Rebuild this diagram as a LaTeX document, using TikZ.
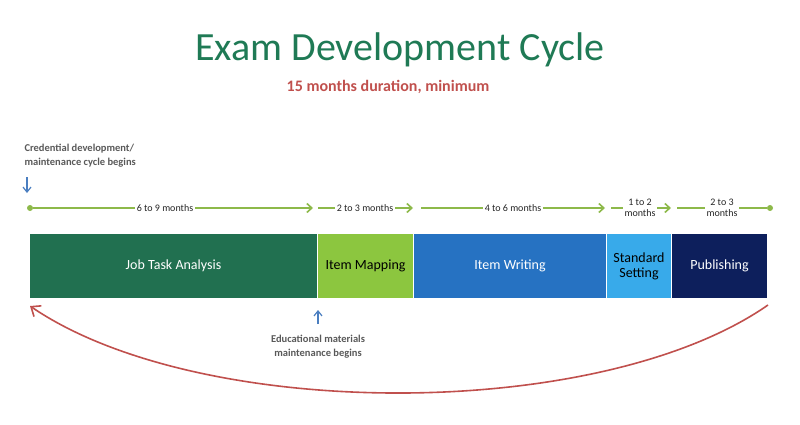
\documentclass[tikz,border=0pt]{standalone}
\usepackage{fontspec}
\setmainfont{Carlito}
\usetikzlibrary{arrows.meta}
\definecolor{jta}{HTML}{217050}
\definecolor{imap}{HTML}{8CC63F}
\definecolor{iwr}{HTML}{2672C2}
\definecolor{sset}{HTML}{38AAEA}
\definecolor{pub}{HTML}{0D1F5C}
\definecolor{ttl}{HTML}{1F7A55}
\definecolor{redc}{HTML}{C0504D}
\definecolor{lgreen}{HTML}{8DB94A}
\definecolor{gtxt}{HTML}{595959}
\definecolor{blu}{HTML}{4A7EC0}
\begin{document}
\begin{tikzpicture}[x=1pt,y=-1pt,
  phase/.style={draw=white,line width=1.5pt,minimum height=66pt,text=white,font=\fontsize{14}{15}\selectfont,inner sep=0pt,align=center},
  tl/.style={lgreen,line width=1.6pt},
  tla/.style={tl,-{Straight Barb[length=5pt,width=9pt,line width=1.6pt]}},
  lbl/.style={fill=white,font=\fontsize{10}{10.5}\selectfont,text=black!85,inner sep=1.5pt,align=center},
  note/.style={font=\bfseries\fontsize{10.5}{14}\selectfont,text=gtxt,align=center},
  dot/.style={circle,fill=lgreen,inner sep=0pt,minimum size=6pt}]
\useasboundingbox (0,0) rectangle (800,425);
\node[text=ttl,font=\fontsize{40}{44}\selectfont] (title) at (400,50) {Exam Development Cycle};
\node[text=redc,font=\bfseries\fontsize{16}{18}\selectfont] (sub) at (388,87) {15 months duration, minimum};
% boxes
\node[phase,fill=jta,minimum width=288pt] (b1) at (173.5,266) {Job Task Analysis};
\node[phase,fill=imap,minimum width=96pt,text=black] (b2) at (365.5,266) {Item Mapping};
\node[phase,fill=iwr,minimum width=193pt] (b3) at (510,266) {Item Writing};
\node[phase,fill=sset,minimum width=65pt,text=black] (b4) at (639,266) {Standard\\Setting};
\node[phase,fill=pub,minimum width=96pt] (b5) at (719.5,266) {Publishing};
% timeline
\node[dot] (d0) at (30,208) {};
\node[dot] (d1) at (770,208) {};
\coordinate (a1) at (313,208);
\coordinate (s2) at (318,208); \coordinate (a2) at (413,208);
\coordinate (s3) at (421,208); \coordinate (a3) at (605,208);
\coordinate (s4) at (611,208); \coordinate (a4) at (671,208);
\coordinate (s5) at (677,208);
\draw[tla] (d0) -- (a1);
\node[lbl] (l1) at (165,208) {6 to 9 months};
\draw[tla] (s2) -- (a2);
\node[lbl] (l2) at (365,208) {2 to 3 months};
\draw[tla] (s3) -- (a3);
\node[lbl] (l3) at (513,208) {4 to 6 months};
\draw[tla] (s4) -- (a4);
\node[lbl,font=\fontsize{10}{11}\selectfont] (l4) at (640,208) {1 to 2\\months};
\draw[tl] (s5) -- (d1);
\node[lbl,font=\fontsize{10}{11}\selectfont] (l5) at (722,208) {2 to 3\\months};
% notes
\node[note,align=left,anchor=north west] (n1) at (21,141) {Credential development/\\maintenance cycle begins};
\coordinate (c1a) at (27,177); \coordinate (c1b) at (27,193);
\draw[blu,line width=1.2pt,-{Straight Barb[length=5pt,width=8pt,line width=1.2pt]}] (c1a) -- (c1b);
\node[note] (n2) at (318,347) {Educational materials\\maintenance begins};
\coordinate (u1) at (318,324); \coordinate (u2) at (318,310);
\draw[blu,line width=1.2pt,-{Straight Barb[length=5pt,width=8pt,line width=1.2pt]}] (u1) -- (u2);
% cycle arrow
\coordinate (r1) at (768,305); \coordinate (r2) at (30,306);
\draw[redc,line width=1.6pt,-{Straight Barb[length=8pt,width=13pt,line width=1.6pt]}] (r1) .. controls (600,422) and (200,422) .. (r2);
\end{tikzpicture}
\end{document}
